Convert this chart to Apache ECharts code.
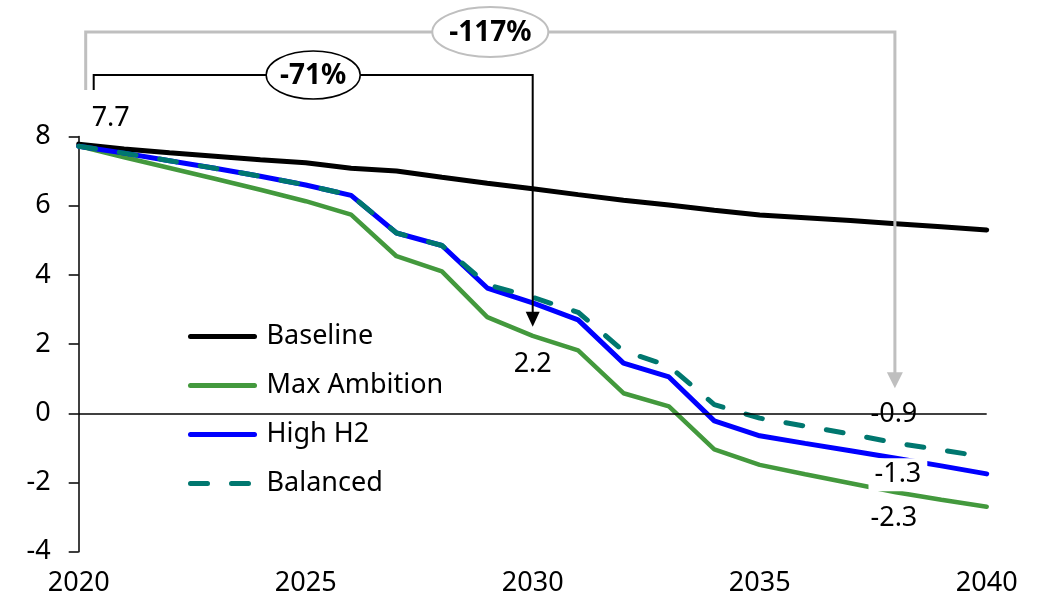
<!DOCTYPE html>
<html><head><meta charset="utf-8">
<script src="https://cdn.jsdelivr.net/npm/echarts@6/dist/echarts.min.js"></script>
<style>html,body{margin:0;padding:0;background:#fff}#c{width:1038px;height:598px}</style>
</head><body><div id="c"></div>
<script>
const years = [2020,2021,2022,2023,2024,2025,2026,2027,2028,2029,2030,2031,2032,2033,2034,2035,2036,2037,2038,2039,2040];
const baseline    = [7.78,7.64,7.53,7.43,7.33,7.24,7.08,7.00,6.82,6.65,6.49,6.32,6.16,6.02,5.87,5.73,5.65,5.57,5.48,5.39,5.30];
const maxAmbition = [7.72,7.40,7.09,6.78,6.46,6.13,5.74,4.54,4.10,2.78,2.24,1.82,0.58,0.20,-1.04,-1.49,-1.76,-2.02,-2.28,-2.50,-2.70];
const highH2      = [7.72,7.52,7.30,7.08,6.85,6.60,6.30,5.21,4.85,3.62,3.19,2.70,1.45,1.05,-0.22,-0.65,-0.87,-1.08,-1.30,-1.52,-1.75];
const balanced    = [7.72,7.52,7.30,7.08,6.85,6.60,6.30,5.21,4.85,3.72,3.35,2.92,1.80,1.37,0.25,-0.14,-0.37,-0.60,-0.86,-1.06,-1.27];
const seriesNames = ['Baseline','Max Ambition','High H2','Balanced'];
const xTicks = [2020,2025,2030,2035,2040];
const yTicks = [-4,-2,0,2,4,6,8];
const callout71  = {fromYear:2020, toYear:2030, text:'-71%'};
const callout117 = {fromYear:2020, toYear:2038, text:'-117%'};

const FONT = 'Noto Sans';
const FS = 27;
const chart = echarts.init(document.getElementById('c'), null, {renderer:'canvas'});

function lab(extra){
  return Object.assign({show:true, fontFamily:FONT, fontSize:FS, color:'#000',
    formatter: p => p.value[1].toFixed(1)}, extra);
}
function mk(vals, labels){
  return years.map((y,i)=>{
    const d = {value:[y, vals[i]]};
    if (labels && labels[y]) d.label = labels[y];
    return d;
  });
}
const whiteBox = {backgroundColor:'#fff', padding:[3,6]};
const common = {type:'line', symbol:'circle', symbolSize:0, showSymbol:true, label:{show:false}};

chart.setOption({
  animation:false,
  backgroundColor:'#fff',
  grid:{left:78.7, right:51.3, top:136.5, bottom:46.3},
  legend:{
    data:seriesNames, orient:'vertical', left:183, top:316.5,
    itemWidth:64, itemHeight:30, itemGap:19,
    itemStyle:{opacity:0},
    lineStyle:{width:5, cap:'round'},
    textStyle:{fontFamily:FONT, fontSize:FS, color:'#000', lineHeight:30, padding:[0,0,0,7]}
  },
  xAxis:{type:'value', min:xTicks[0], max:xTicks[xTicks.length-1], interval:5,
    axisLine:{show:false}, axisTick:{show:false}, splitLine:{show:false},
    axisLabel:{fontFamily:FONT, fontSize:FS, color:'#000', margin:18, formatter:v=>String(v)}},
  yAxis:{type:'value', min:yTicks[0], max:yTicks[yTicks.length-1], interval:2,
    axisLine:{show:true, lineStyle:{color:'#000', width:1.5}},
    axisTick:{show:true, length:10, lineStyle:{color:'#000', width:1.5}},
    splitLine:{show:false},
    axisLabel:{fontFamily:FONT, fontSize:FS, color:'#000', margin:28}},
  series:[
    Object.assign({}, common, {name:'Baseline', data:mk(baseline),
     lineStyle:{color:'#000', width:5, cap:'round'}, itemStyle:{color:'#000'},
     markLine:{silent:true, symbol:'none', label:{show:false},
       lineStyle:{color:'#000', width:1.5, type:'solid'}, data:[{yAxis:0}]}}),
    Object.assign({}, common, {name:'Max Ambition',
     data:mk(maxAmbition, {2030:lab({position:'bottom', offset:[0,10]}),
                           2038:lab({position:'bottom', offset:[-2,8]})}),
     lineStyle:{color:'#43993d', width:4.5, cap:'round'}, itemStyle:{color:'#43993d'}}),
    Object.assign({}, common, {name:'High H2',
     data:mk(highH2, {2020:lab({position:'top', offset:[32,-9]}),
                      2038:lab(Object.assign({position:'bottom', offset:[2,-5]}, whiteBox))}),
     lineStyle:{color:'#0000ff', width:5, cap:'round'}, itemStyle:{color:'#0000ff'}}),
    Object.assign({}, common, {name:'Balanced',
     data:mk(balanced, {2038:lab(Object.assign({position:'top', offset:[-2,-7]}, whiteBox))}),
     lineStyle:{color:'#00776f', width:5, type:[17,24], cap:'round'}, itemStyle:{color:'#00776f'}})
  ]
});

function px(year, v){ return chart.convertToPixel({gridIndex:0}, [year, v]); }
const g = [];
// gray -117% bracket
(function(){
  const xl = px(callout117.fromYear, 0)[0] + 7;
  const xr = px(callout117.toYear, 0)[0] - 1;
  const yTop = 32, yBot = 90;
  const tip = px(callout117.toYear, 0)[1] - 25;
  g.push({type:'polyline', shape:{points:[[xl,yBot],[xl,yTop],[xr,yTop],[xr,tip-14]]},
    style:{stroke:'#bfbfbf', lineWidth:3, fill:null}, z:100});
  g.push({type:'polygon', shape:{points:[[xr-8,tip-16],[xr+8,tip-16],[xr,tip]]},
    style:{fill:'#bfbfbf'}, z:100});
  const cx = (xl+xr)/2;
  g.push({type:'ellipse', shape:{cx:cx, cy:yTop, rx:58, ry:25},
    style:{fill:'#fff', stroke:'#bfbfbf', lineWidth:2}, z:101});
  g.push({type:'text', x:cx, y:yTop+1, style:{text:callout117.text, fill:'#000',
    font:'bold 28px "Noto Sans"', align:'center', verticalAlign:'middle'}, z:102});
})();
// black -71% bracket
(function(){
  const xl = px(callout71.fromYear, 0)[0] + 15;
  const xr = px(callout71.toYear, 0)[0];
  const yTop = 75, yBot = 90;
  const tip = px(callout71.toYear, maxAmbition[years.indexOf(callout71.toYear)])[1] - 9;
  g.push({type:'polyline', shape:{points:[[xl,yBot],[xl,yTop],[xr,yTop],[xr,tip-14]]},
    style:{stroke:'#000', lineWidth:2, fill:null}, z:100});
  g.push({type:'polygon', shape:{points:[[xr-7,tip-15],[xr+7,tip-15],[xr,tip]]},
    style:{fill:'#000'}, z:100});
  const cx = (xl+xr)/2;
  g.push({type:'ellipse', shape:{cx:cx, cy:yTop, rx:47, ry:24},
    style:{fill:'#fff', stroke:'#000', lineWidth:1.5}, z:101});
  g.push({type:'text', x:cx, y:yTop+1, style:{text:callout71.text, fill:'#000',
    font:'bold 28px "Noto Sans"', align:'center', verticalAlign:'middle'}, z:102});
})();
chart.setOption({graphic:g});
</script></body></html>
